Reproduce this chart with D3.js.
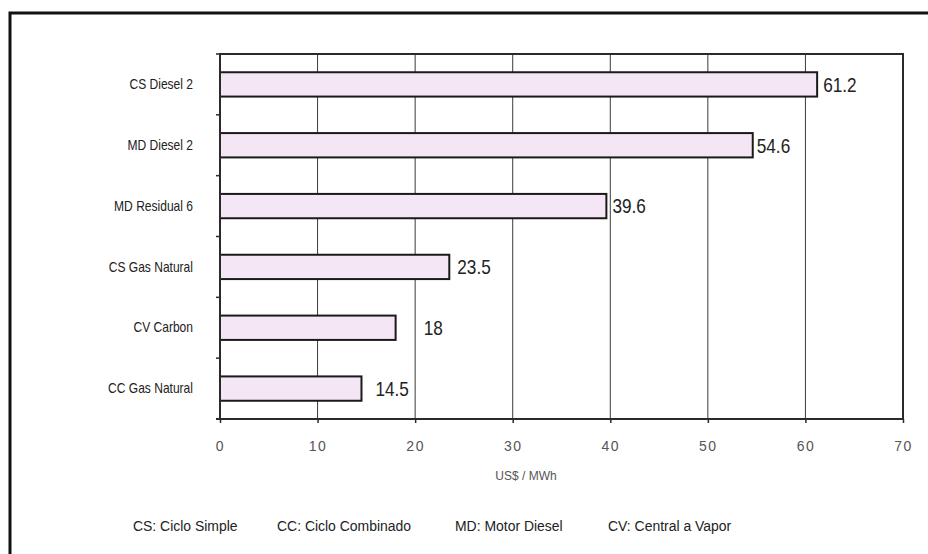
<!DOCTYPE html>
<html>
<head>
<meta charset="utf-8">
<script src="https://cdn.jsdelivr.net/npm/d3@7"></script>
<style>
  html, body { margin: 0; padding: 0; background: #fff; }
  svg { display: block; font-family: "Liberation Sans", Arial, sans-serif; }
</style>
</head>
<body>
<svg id="chart" width="928" height="554"></svg>
<script>
// ---- data ----
const categories = ["CS Diesel 2", "MD Diesel 2", "MD Residual 6", "CS Gas Natural", "CV Carbon", "CC Gas Natural"];
const values = [61.2, 54.6, 39.6, 23.5, 18, 14.5];
const valueLabels = ["61.2", "54.6", "39.6", "23.5", "18", "14.5"];
const xTicks = [0, 10, 20, 30, 40, 50, 60, 70];
const xAxisTitle = "US$ / MWh";
const legendItems = ["CS: Ciclo Simple", "CC: Ciclo Combinado", "MD: Motor Diesel", "CV: Central a Vapor"];

// ---- layout ----
const svg = d3.select("#chart");
const plot = { left: 220, right: 903, top: 54, bottom: 419 };
// per-label horizontal offsets, as placed in the reference
const labelDx = { "CV Carbon": 28, "CC Gas Natural": 14, "CS Gas Natural": 8, "MD Diesel 2": 4 };
const legendX = [133, 277, 455, 608];

// outer frame (extends beyond the right/bottom edges)
svg.append("rect")
  .attr("x", 10).attr("y", 13)
  .attr("width", 960).attr("height", 600)
  .attr("fill", "none").attr("stroke", "#111").attr("stroke-width", 3);

const x = d3.scaleLinear().domain([0, 70]).range([plot.left, plot.right]);
const y = d3.scaleBand().domain(categories).range([plot.top, plot.bottom])
  .paddingInner(0.6).paddingOuter(0.3);

// vertical gridlines
svg.append("g").selectAll("line").data(xTicks.slice(1, -1)).join("line")
  .attr("x1", d => x(d)).attr("x2", d => x(d))
  .attr("y1", plot.top).attr("y2", plot.bottom)
  .attr("stroke", "#3a3a3a").attr("stroke-width", 1);

// bars
svg.append("g").selectAll("rect").data(categories).join("rect")
  .attr("x", x(0))
  .attr("y", d => y(d))
  .attr("width", (d, i) => x(values[i]) - x(0))
  .attr("height", y.bandwidth())
  .attr("fill", "#f4e6f4")
  .attr("stroke", "#1a1a1a").attr("stroke-width", 2);

// plot border
svg.append("rect")
  .attr("x", plot.left).attr("y", plot.top)
  .attr("width", plot.right - plot.left).attr("height", plot.bottom - plot.top)
  .attr("fill", "none").attr("stroke", "#2a2a2a").attr("stroke-width", 2);

// bottom axis
const xAxis = d3.axisBottom(x).tickValues(xTicks).tickSize(4).tickPadding(18).tickFormat(d3.format("d"));
const gx = svg.append("g").attr("transform", `translate(0,${plot.bottom})`).call(xAxis);
gx.select(".domain").remove();
gx.selectAll(".tick line").attr("stroke", "#2a2a2a").attr("stroke-width", 1.5);
gx.selectAll(".tick text")
  .attr("fill", "#555").attr("font-size", 14).attr("letter-spacing", 1.5)
  .attr("font-family", "'Liberation Sans', Arial, sans-serif");
svg.append("line")
  .attr("x1", plot.left - 4).attr("x2", plot.right)
  .attr("y1", plot.bottom).attr("y2", plot.bottom)
  .attr("stroke", "#2a2a2a").attr("stroke-width", 2);

// left axis ticks at band boundaries
const bandEdges = categories.map(c => y(c) - y.step() * y.paddingInner() / 2).concat([plot.bottom]);
const step = y.step();
svg.append("g").selectAll("line").data(d3.range(categories.length + 1)).join("line")
  .attr("x1", plot.left - 4).attr("x2", plot.left)
  .attr("y1", i => plot.top + i * (plot.bottom - plot.top) / categories.length)
  .attr("y2", i => plot.top + i * (plot.bottom - plot.top) / categories.length)
  .attr("stroke", "#2a2a2a").attr("stroke-width", 1.5);

// category labels
svg.append("g").selectAll("text").data(categories).join("text")
  .attr("transform", d => `translate(193,${y(d) + y.bandwidth() / 2 + 1}) scale(0.86,1)`)
  .attr("text-anchor", "end").attr("dominant-baseline", "middle")
  .attr("font-size", 14).attr("fill", "#222")
  .text(d => d);

// value labels
svg.append("g").selectAll("text").data(categories).join("text")
  .attr("transform", (d, i) => `translate(${x(values[i]) + (labelDx[d] ?? 6)},${y(d) + y.bandwidth() / 2 + 2}) scale(0.86,1)`)
  .attr("dominant-baseline", "middle")
  .attr("font-size", 20).attr("fill", "#222")
  .text((d, i) => valueLabels[i]);

// axis title
svg.append("text")
  .attr("x", 526).attr("y", 477)
  .attr("text-anchor", "middle").attr("dominant-baseline", "middle")
  .attr("font-size", 12).attr("fill", "#555")
  .text(xAxisTitle);

// legend / abbreviations
svg.append("g").selectAll("text").data(legendItems).join("text")
  .attr("transform", (d, i) => `translate(${legendX[i]},527) scale(0.9,1)`)
  .attr("dominant-baseline", "middle")
  .attr("font-size", 15.5).attr("fill", "#222")
  .text(d => d);
</script>
</body>
</html>
